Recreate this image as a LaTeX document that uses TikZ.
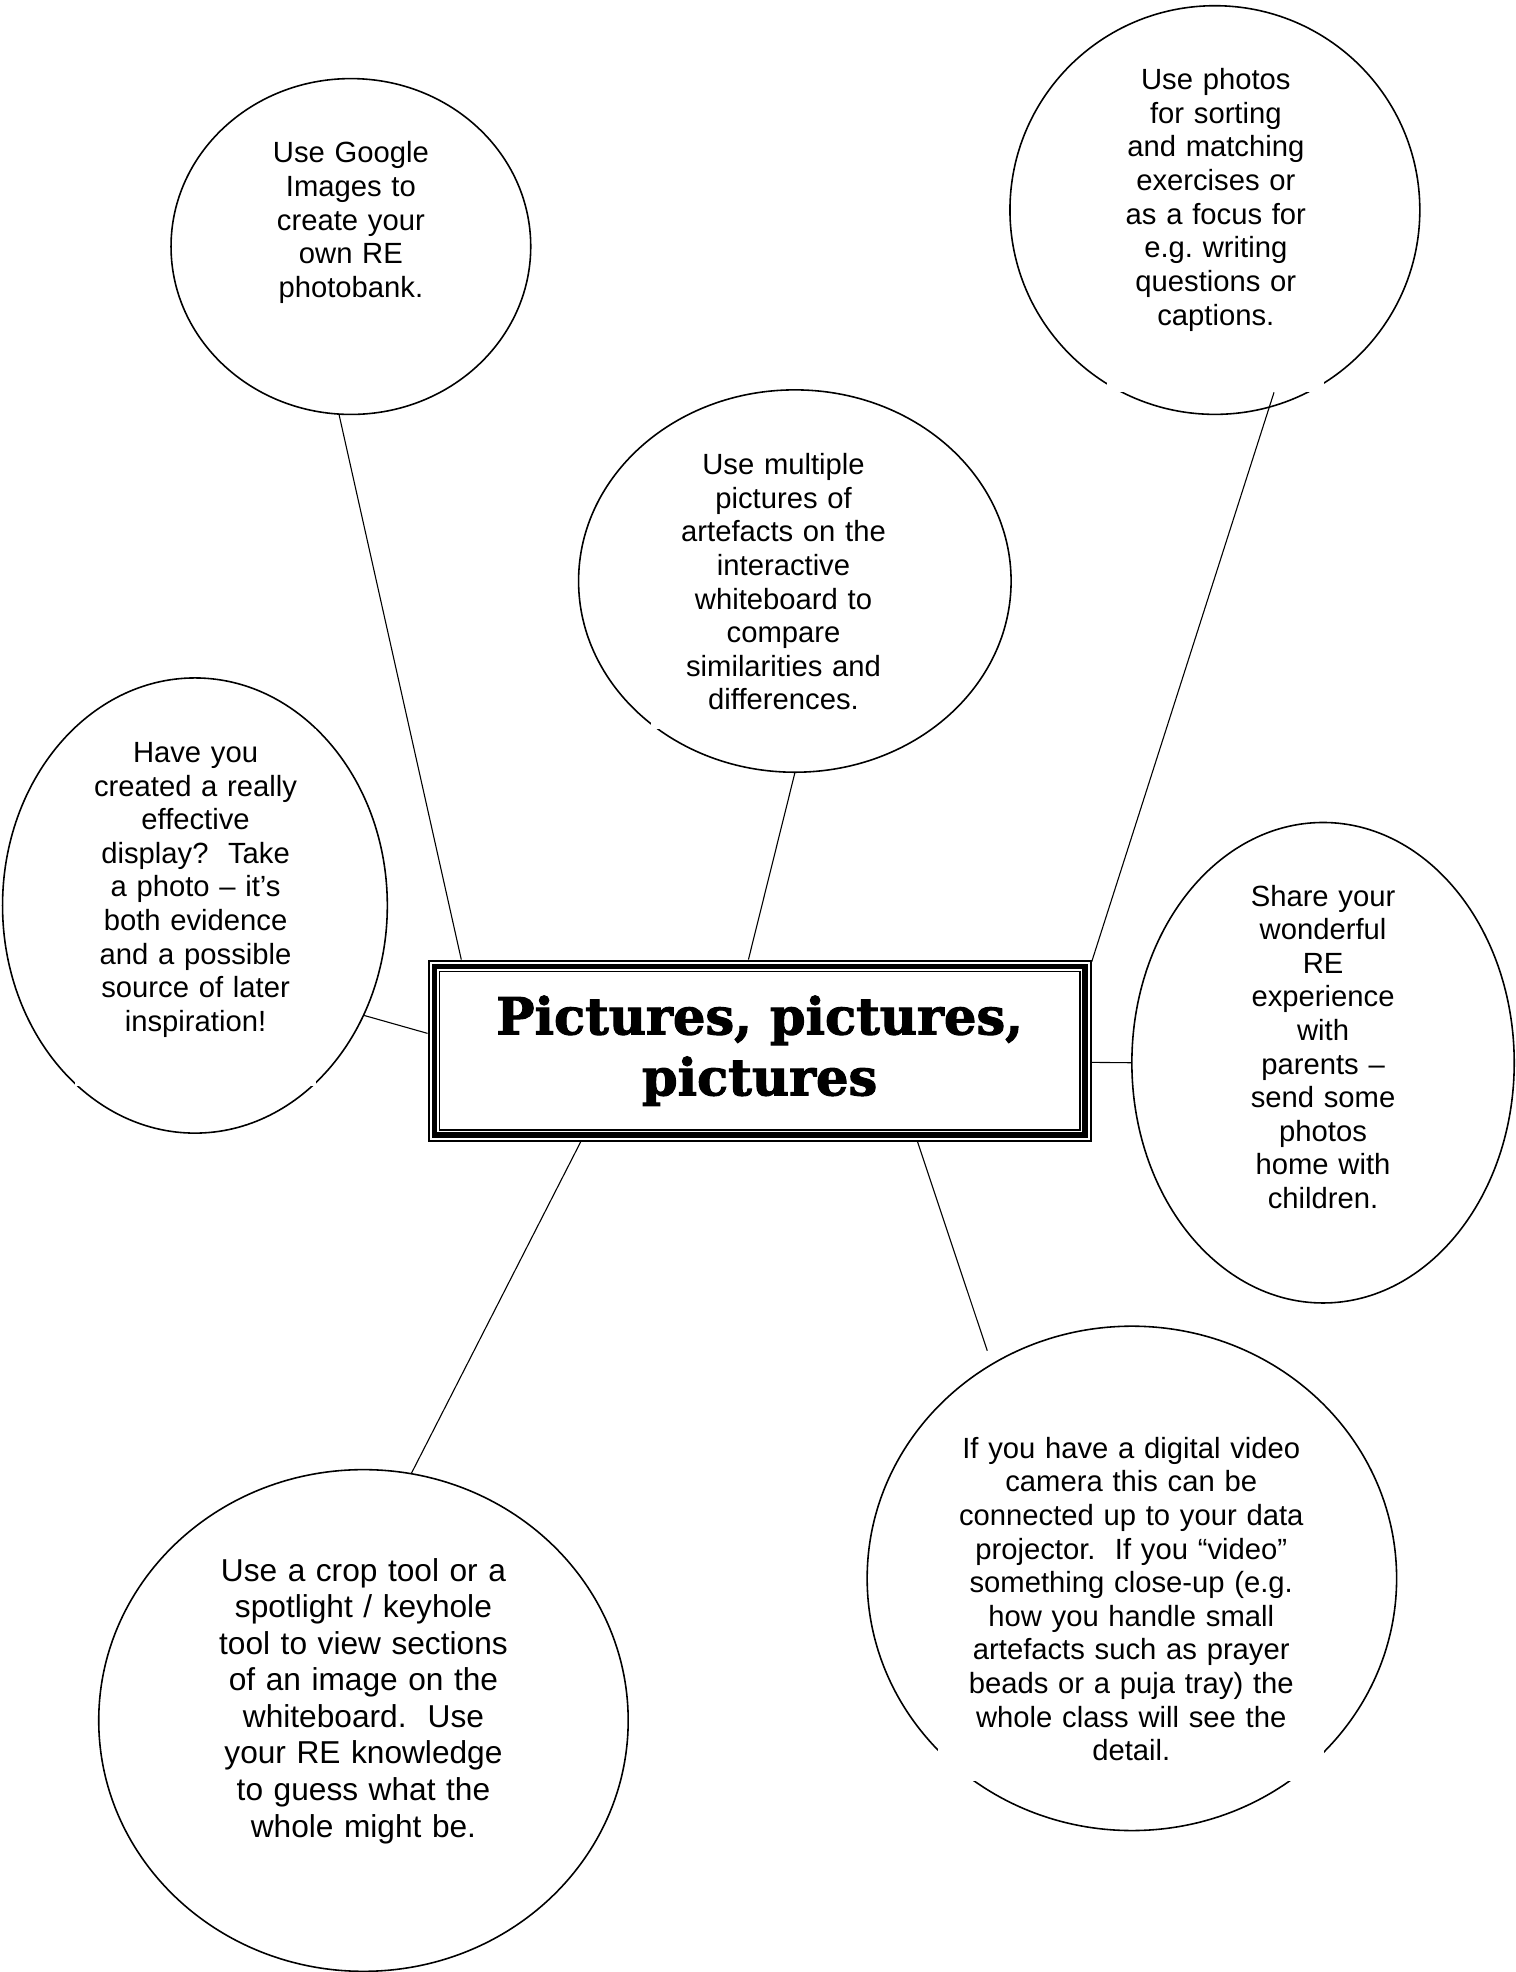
\documentclass[tikz,border=0pt]{standalone}
\usepackage{fontspec}
\setmainfont{Liberation Sans}
\newfontfamily\headfont[BoldFeatures={FakeBold=2}]{DejaVu Serif}
\usetikzlibrary{shapes.geometric}
\tikzstyle{bubble} = [draw, ellipse, fill=white, line width=0.65pt, inner sep=0pt]
\tikzstyle{tip} = [fill=white, anchor=north, align=center, inner sep=0pt,
    font=\fontsize{12}{13.8}\selectfont]
\tikzstyle{link} = [line width=0.45pt]
\tikzstyle{headline} = [draw, fill=white, line width=0.8pt, align=center,
    minimum width=271.9pt, minimum height=74.1pt,
    font=\headfont\bfseries\fontsize{21}{25}\selectfont]

\begin{document}
\begin{tikzpicture}[x=0.5164pt, y=-0.5164pt]
  \useasboundingbox (0,0) rectangle (1205,1568);
  % bubbles
  \node [bubble, minimum width=147.7pt, minimum height=137.9pt] (google) at (279,196) {};
  \node [bubble, minimum width=168.3pt, minimum height=167.8pt] (sorting) at (966,167) {};
  \node [bubble, minimum width=177.6pt, minimum height=157pt] (artefacts) at (632,462) {};
  \node [bubble, minimum width=158pt, minimum height=186.9pt] (display) at (155,720) {};
  \node [bubble, minimum width=157pt, minimum height=197.3pt] (share) at (1052,845) {};
  \node [bubble, minimum width=217.4pt, minimum height=206pt] (crop) at (289,1368) {};
  \node [bubble, minimum width=217.4pt, minimum height=207.1pt] (video) at (900,1255) {};
  % centre box with its triple frame
  \node [headline] (title) at (604,835.5) {Pictures, pictures,\\pictures};
  \draw [line width=2.2pt] ([shift={(2.8pt,-2.8pt)}]title.north west)
    rectangle ([shift={(-2.8pt,2.8pt)}]title.south east);
  \draw [line width=0.7pt] ([shift={(4.85pt,-4.85pt)}]title.north west)
    rectangle ([shift={(-4.85pt,4.85pt)}]title.south east);
  % connectors
  \coordinate (sorting-tail) at (1013,312);
  \coordinate (video-tail) at (785,1074);
  \draw [link] (google.-94) -- (title.163.3);
  \draw [link] (artefacts.south) -- (title.97.9);
  \draw [link] (sorting-tail) -- (title.15.4);
  \draw [link] (display.-33) -- (title.177.7);
  \draw [link] (share.west) -- (title.-2.1);
  \draw [link] (crop.79) -- (title.-153.7);
  \draw [link] (video-tail) -- (title.-30.1);
  % texts
  \node [tip, text width=81.6pt, text height=15pt, text depth=62.5pt] (google-t) at (279,100)
    {Use Google\\Images to\\create your\\own RE\\photobank.};
  \node [tip, text width=89.1pt, text height=16pt, text depth=123.9pt] (sorting-t) at (966.75,40)
    {Use photos\\for sorting\\and matching\\exercises or\\as a focus for\\e.g.\ writing\\questions or\\captions.};
  \node [tip, text width=109pt, text height=11.4pt, text depth=104.2pt] (artefacts-t) at (623,355)
    {Use multiple\\pictures of\\artefacts on the\\interactive\\whiteboard to\\compare\\similarities and\\differences.};
  \node [tip, text width=98.6pt, text height=13.9pt, text depth=132.7pt] (display-t) at (155.5,579)
    {Have you\\created a really\\effective\\display?\ \ Take\\a photo – it’s\\both evidence\\and a possible\\source of later\\inspiration!};
  \node [tip, text width=69.2pt, text height=15.5pt, text depth=131.7pt] (share-t) at (1052,690)
    {Share your\\wonderful\\RE\\experience\\with\\parents –\\send some\\photos\\home with\\children.};
  \node [tip, text width=122.9pt, text height=16.5pt, text depth=112.6pt,
    font=\fontsize{13}{15}\selectfont] (crop-t) at (289,1225)
    {Use a crop tool or a\\spotlight / keyhole\\tool to view sections\\of an image on the\\whiteboard.\ \ Use\\your RE knowledge\\to guess what the\\whole might be.};
  \node [tip, text width=158.5pt, text height=17.6pt, text depth=132.7pt] (video-t) at (899.5,1125)
    {If you have a digital video\\camera this can be\\connected up to your data\\projector.\ \ If you “video”\\something close-up (e.g.\\how you handle small\\artefacts such as prayer\\beads or a puja tray) the\\whole class will see the\\detail.};
\end{tikzpicture}
\end{document}
